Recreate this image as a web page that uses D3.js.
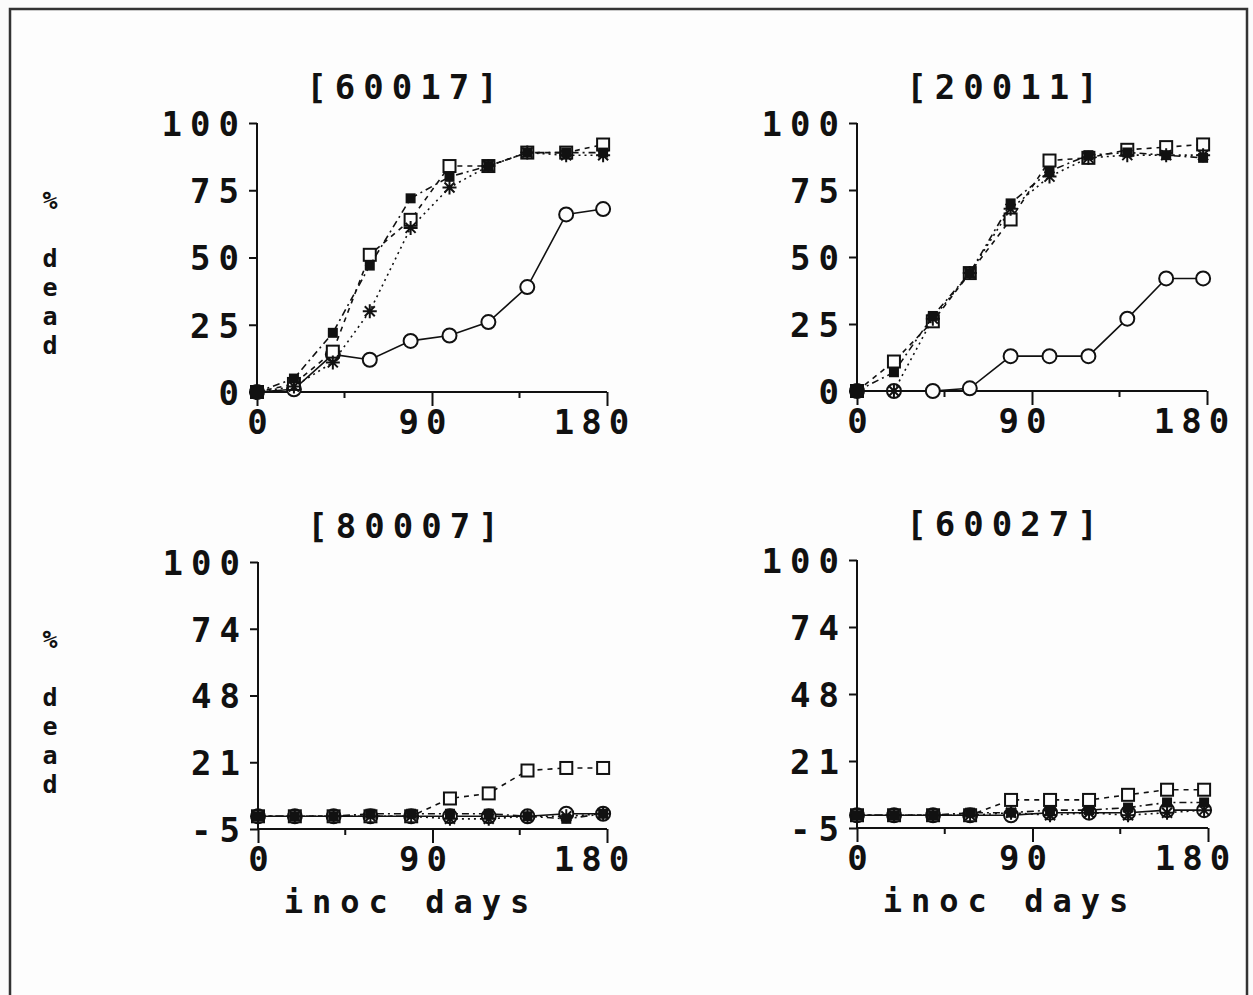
<!DOCTYPE html>
<html>
<head>
<meta charset="utf-8">
<script src="https://cdn.jsdelivr.net/npm/d3@7"></script>
<style>
  body { margin: 0; background: #fbfbfb; }
  text { font-family: "DejaVu Sans Mono", "Liberation Mono", monospace; fill: #111; font-weight: bold; }
</style>
</head>
<body>
<script>
// sampling days (same for every panel)
const days = [0, 19, 39, 58, 79, 99, 119, 139, 159, 178];

// panel titles
const titles = ["[60017]", "[20011]", "[80007]", "[60027]"];

// [60017]
const circ60017 = [0, 1, 14, 12, 19, 21, 26, 39, 66, 68];
const sqr60017  = [0, 3, 15, 51, 64, 84, 84, 89, 89, 92];
const star60017 = [0, 2, 11, 30, 61, 76, 84, 89, 88, 88];
const fill60017 = [0, 5, 22, 47, 72, 80, 84, 89, 89, 89];

// [20011]
const circ20011 = [0, 0, 0, 1, 13, 13, 13, 27, 42, 42];
const sqr20011  = [0, 11, 26, 44, 64, 86, 87, 90, 91, 92];
const star20011 = [0, 0, 27, 44, 68, 80, 87, 88, 88, 88];
const fill20011 = [0, 7, 28, 44, 70, 82, 88, 89, 88, 87];

// [80007]
const circ80007 = [0, 0, 0, 0, 0, 0, 0, 0, 1, 1];
const sqr80007  = [0, 0, 0, 0, 0, 7, 9, 18, 19, 19];
const star80007 = [0, 0, 0, 0, 0, -1, -1, 0, 0, 1];
const fill80007 = [0, 0, 0, 1, 1, 1, 1, 0, -1, 1];

// [60027]
const circ60027 = [0, 0, 0, 0, 0, 1, 1, 1, 2, 2];
const sqr60027  = [0, 0, 0, 0, 6, 6, 6, 8, 10, 10];
const star60027 = [0, 0, 0, 0, 1, 0, 1, 0, 1, 2];
const fill60027 = [0, 0, 0, 1, 1, 2, 2, 3, 5, 5];

// tick values and labels
const xTicks = [0, 90, 180];
const xMinor = [45, 135];
const yTicksTop = [0, 25, 50, 75, 100];
const yTicksBot = [-5, 21.25, 47.5, 73.75, 100];
const yLabelsBot = ["-5", "21", "48", "74", "100"];
const xTitle = "inoc days";
const yTitle = ["%", "", "d", "e", "a", "d"];

var W = 1253, H = 995;

var svg = d3.select("body").append("svg")
  .attr("width", W).attr("height", H);

// page frame
svg.append("rect").attr("x", 10).attr("y", 9)
  .attr("width", 1237).attr("height", 1000)
  .attr("fill", "#fdfdfd").attr("stroke", "#333").attr("stroke-width", 2.5);

var panels = [
  { x0: 257, x1: 607, y0: 392, y1: 123, dom: [0, 100], ticks: yTicksTop, labels: yTicksTop.map(String),
    series: [circ60017, sqr60017, star60017, fill60017], title: titles[0], ylab: true, xlab: false },
  { x0: 857, x1: 1207, y0: 391, y1: 123, dom: [0, 100], ticks: yTicksTop, labels: yTicksTop.map(String),
    series: [circ20011, sqr20011, star20011, fill20011], title: titles[1], ylab: false, xlab: false },
  { x0: 258, x1: 607, y0: 829, y1: 562, dom: [-5, 100], ticks: yTicksBot, labels: yLabelsBot,
    series: [circ80007, sqr80007, star80007, fill80007], title: titles[2], ylab: true, xlab: true },
  { x0: 857, x1: 1208, y0: 828, y1: 560, dom: [-5, 100], ticks: yTicksBot, labels: yLabelsBot,
    series: [circ60027, sqr60027, star60027, fill60027], title: titles[3], ylab: false, xlab: true }
];

// line styles per series: circles solid, squares dashed, stars dotted, filled squares dash-dot
var dashes = [null, "5,5", "2,4", "7,4,2,4"];
// the printer set the 90 and 180 labels a little left of their ticks
var xLabelShift = [0, -10, -16];

var starPath = "M-7,0L7,0M0,-7L0,7M-5,-5L5,5M-5,5L5,-5";

panels.forEach(function(p) {
  var x = d3.scaleLinear().domain([0, 180]).range([p.x0, p.x1]);
  var y = d3.scaleLinear().domain(p.dom).range([p.y0, p.y1]);
  var g = svg.append("g");

  // y axis
  var yAxis = d3.axisLeft(y).tickValues(p.ticks)
    .tickFormat(function(d, i) { return p.labels[i]; })
    .tickSize(8).tickPadding(2);
  var ya = g.append("g").attr("transform", "translate(" + p.x0 + ",0)").call(yAxis);
  ya.select(".domain").attr("stroke", "#111").attr("stroke-width", 2)
    .attr("d", "M0," + p.y1 + "V" + p.y0);
  ya.selectAll(".tick line").attr("stroke", "#111").attr("stroke-width", 2);
  ya.selectAll(".tick text").attr("font-size", 34).attr("letter-spacing", 8)
    .attr("dy", "0.36em").attr("font-family", null);

  // x axis
  var xAxis = d3.axisBottom(x).tickValues(xTicks).tickSize(14).tickPadding(4);
  var xa = g.append("g").attr("transform", "translate(0," + p.y0 + ")").call(xAxis);
  xa.select(".domain").attr("stroke", "#111").attr("stroke-width", 2)
    .attr("d", "M" + p.x0 + ",0H" + p.x1);
  xa.selectAll(".tick line").attr("stroke", "#111").attr("stroke-width", 2);
  xa.selectAll(".tick text").attr("font-size", 34).attr("letter-spacing", 7)
    .attr("dy", "0.7em").attr("font-family", null)
    .attr("dx", (d, i) => xLabelShift[i] + 3.5);
  xa.selectAll(".minor").data(xMinor).enter().append("line")
    .attr("x1", d => x(d)).attr("x2", d => x(d))
    .attr("y1", 0).attr("y2", 6)
    .attr("stroke", "#111").attr("stroke-width", 2);

  // title
  g.append("text").attr("x", p.x0 + 149).attr("y", p.y1 - 36)
    .attr("text-anchor", "middle").attr("dy", "0.36em")
    .attr("font-size", 34).attr("letter-spacing", 8)
    .text(p.title);

  if (p.ylab) {
    g.selectAll(".ylab").data(yTitle).enter().append("text")
      .attr("x", 50).attr("y", (d, i) => (p.y1 + 77) + i * 29)
      .attr("text-anchor", "middle").attr("dy", "0.36em")
      .attr("font-size", 25).text(d => d);
  }
  if (p.xlab) {
    g.append("text").attr("x", p.x0 + 153).attr("y", p.y0 + 72)
      .attr("text-anchor", "middle").attr("dy", "0.36em")
      .attr("font-size", 32).attr("letter-spacing", 9)
      .text(xTitle);
  }

  var line = d3.line().x((d, i) => x(days[i])).y(d => y(d));

  p.series.forEach(function(vals, s) {
    g.append("path").datum(vals)
      .attr("d", line)
      .attr("fill", "none").attr("stroke", "#111").attr("stroke-width", 1.6)
      .attr("stroke-dasharray", dashes[s]);

    var pts = g.selectAll(".pt" + s).data(vals).enter().append("g")
      .attr("transform", (d, i) => "translate(" + x(days[i]) + "," + y(d) + ")");
    if (s === 0) {
      pts.append("circle").attr("r", 7).attr("fill", "#fdfdfd")
        .attr("stroke", "#111").attr("stroke-width", 2);
    } else if (s === 1) {
      pts.append("rect").attr("x", -6).attr("y", -6).attr("width", 12).attr("height", 12)
        .attr("fill", "#fdfdfd").attr("stroke", "#111").attr("stroke-width", 2);
    } else if (s === 2) {
      pts.append("path").attr("d", starPath).attr("stroke", "#111").attr("stroke-width", 2);
    } else {
      pts.append("rect").attr("x", -5).attr("y", -5).attr("width", 10).attr("height", 10)
        .attr("fill", "#111");
    }
  });
});
</script>
</body>
</html>
